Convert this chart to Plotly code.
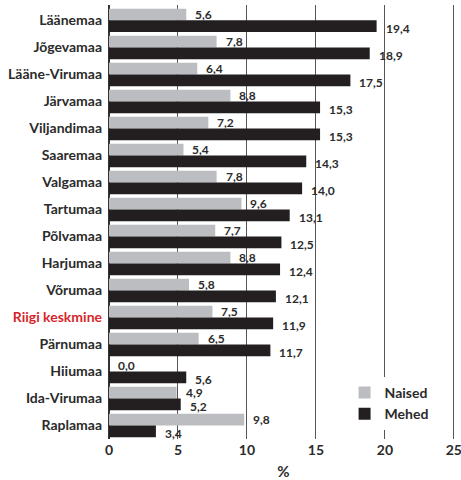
import plotly.graph_objects as go

# Maakonnad (ülevalt alla) ja näitajad protsentides
regions = ["Läänemaa", "Jõgevamaa", "Lääne-Virumaa", "Järvamaa", "Viljandimaa",
           "Saaremaa", "Valgamaa", "Tartumaa", "Põlvamaa", "Harjumaa", "Võrumaa",
           "Riigi keskmine", "Pärnumaa", "Hiiumaa", "Ida-Virumaa", "Raplamaa"]
naised = [5.6, 7.8, 6.4, 8.8, 7.2, 5.4, 7.8, 9.6, 7.7, 8.8, 5.8, 7.5, 6.5, 0.0, 4.9, 9.8]
mehed = [19.4, 18.9, 17.5, 15.3, 15.3, 14.3, 14.0, 13.1, 12.5, 12.4, 12.1, 11.9, 11.7, 5.6, 5.2, 3.4]

FONT = "Lato"
DARK = "#2b2b2b"
RED = "#d7262b"
BARGAP = 0.13


def fmt(v):
    return f"{v:.1f}".replace(".", ",")


tick_text = [f"<span style='color:{RED}'>{r}</span>" if r == "Riigi keskmine" else r
             for r in regions]

value_font = dict(family=FONT, size=12, color=DARK, weight="bold")

fig = go.Figure()
fig.add_trace(go.Bar(
    name="Naised", y=regions, x=naised, orientation="h",
    marker=dict(color="#bcbdc0", line=dict(width=0)),
))
fig.add_trace(go.Bar(
    name="Mehed", y=regions, x=mehed, orientation="h",
    marker=dict(color="#231f20", line=dict(width=0)),
))

# Väärtussildid tulpade otstesse (kaks tulpa grupis, kummagi keskkoht)
half = (1 - BARGAP) / 4
for i, (n, m) in enumerate(zip(naised, mehed)):
    fig.add_annotation(x=n, y=i - half, xref="x", yref="y", text=fmt(n),
                       showarrow=False, xanchor="left", yanchor="middle",
                       xshift=7, yshift=0, font=value_font)
    fig.add_annotation(x=m, y=i + half, xref="x", yref="y", text=fmt(m),
                       showarrow=False, xanchor="left", yanchor="middle",
                       xshift=7, yshift=-2, font=value_font)

fig.update_layout(
    width=461, height=480,
    margin=dict(l=109, r=3, t=5, b=41),
    barmode="group", bargap=BARGAP, bargroupgap=0,
    plot_bgcolor="white", paper_bgcolor="white",
    font=dict(family=FONT, size=14, color=DARK),
    showlegend=True,
    legend=dict(
        x=0.675, y=0.143, xanchor="left", yanchor="top",
        bgcolor="white", borderwidth=0,
        font=dict(family=FONT, size=14, color=DARK, weight="bold"),
        itemwidth=30, tracegroupgap=2,
    ),
    xaxis=dict(
        range=[0, 25.3], tickmode="linear", tick0=0, dtick=5,
        showgrid=True, gridcolor="#555555", gridwidth=1.3,
        zeroline=True, zerolinecolor="#333333", zerolinewidth=1.5,
        showline=False, ticks="", ticklabeloverflow="allow", ticklabelstandoff=1,
        automargin=False,
        tickfont=dict(family=FONT, size=14, color=DARK, weight="bold"),
        title=dict(text="%", font=dict(family=FONT, size=15, color=DARK, weight="bold"),
                   standoff=22),
    ),
    yaxis=dict(
        categoryorder="array", categoryarray=regions, autorange="reversed",
        tickvals=regions, ticktext=tick_text, ticks="", ticklabelstandoff=6,
        showgrid=False, zeroline=False, showline=False, automargin=False,
        tickfont=dict(family=FONT, size=14, color=DARK, weight="bold"),
    ),
)

fig.write_html("out.html")
